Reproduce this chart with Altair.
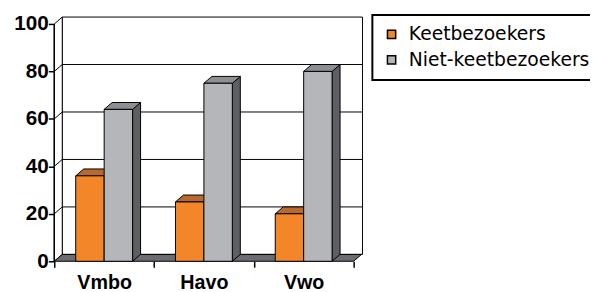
import altair as alt
import pandas as pd

# ---- data ----
categories = ["Vmbo", "Havo", "Vwo"]
series = ["Keetbezoekers", "Niet-keetbezoekers"]
keet = [36, 25, 20]
niet = [64, 75, 80]
y_ticks = [0, 20, 40, 60, 80, 100]

# ---- styling ----
front_colors = ["#F4862A", "#B5B6B9"]
top_colors = ["#B8692D", "#8E8F93"]
side_colors = ["#9A5420", "#5E5F63"]
floor_color = "#6B6C70"

DX = 0.08      # depth offset (x units)
DY = 2.9       # depth offset (y units)
XMAX = 3.09
YMAX = 102.9
BAR_W = 0.285
PLOT_W = 313
PLOT_H = 248

values = {series[0]: keet, series[1]: niet}

fronts, tops, sides = [], [], []
for i, cat in enumerate(categories):
    c = i + 0.5
    for j, s in enumerate(series):
        v = values[s][i]
        x0 = c - BAR_W if j == 0 else c
        x1 = x0 + BAR_W
        fid = f"{cat}-{s}"
        fronts.append(dict(series=s, x=x0, x2=x1, y=0, y2=v))
        tops.append(dict(id=fid, y=v, x=x0, x2=x1, fill=top_colors[j]))
        tops.append(dict(id=fid, y=v + DY, x=x0 + DX, x2=x1 + DX, fill=top_colors[j]))
        sides.append(dict(id=fid, x=x1, y=0, y2=v, fill=side_colors[j]))
        sides.append(dict(id=fid, x=x1 + DX, y=DY, y2=v + DY, fill=side_colors[j]))

xs = alt.Scale(domain=[0, XMAX], nice=False, zero=False)
ys = alt.Scale(domain=[0, YMAX], nice=False, zero=False)

tick_vals = [0, 0.5, 1, 1.5, 2, 2.5, 3]
cat_js = "[" + ",".join(f"'{c}'" for c in categories) + "]"
x_axis = alt.Axis(
    values=tick_vals,
    labelExpr=f"datum.value % 1 === 0 ? '' : {cat_js}[floor(datum.value)]",
    tickOpacity={"condition": {"test": "datum.value % 1 === 0", "value": 1}, "value": 0},
    domain=False, grid=False, title=None, tickSize=6, tickColor="black", tickWidth=1.5,
    labelFont="Liberation Sans", labelFontWeight="bold", labelFontSize=20,
    labelColor="black", labelPadding=6, labelOverlap=False, labelFlush=False,
)
y_axis = alt.Axis(
    values=y_ticks, domain=False, grid=False, title=None, tickSize=6,
    tickColor="black", tickWidth=1.5,
    labelFont="Liberation Sans", labelFontWeight="bold", labelFontSize=21,
    labelColor="black", labelPadding=0, labelOverlap=False,
)


def X(field):
    return alt.X(field, scale=xs, axis=x_axis, title=None)


def Y(field):
    return alt.Y(field, scale=ys, axis=y_axis, title=None)


# back wall
back_df = pd.DataFrame([dict(x=DX, x2=XMAX, y=DY, y2=YMAX)])
back = alt.Chart(back_df).mark_rect(fill="white", stroke="black", strokeWidth=1).encode(
    x=X("x:Q"), x2="x2", y=Y("y:Q"), y2="y2",
)

# left side wall
left_df = pd.DataFrame([
    dict(id="w", x=0, y=0, y2=y_ticks[-1]),
    dict(id="w", x=DX, y=DY, y2=y_ticks[-1] + DY),
])
left = alt.Chart(left_df).mark_area(orient="vertical", fill="white", stroke="black", strokeWidth=1).encode(
    x=X("x:Q"), y=Y("y:Q"), y2="y2", detail="id:N",
)

# gridlines on back wall and side wall
grid_df = pd.DataFrame([dict(v=v, vb=v + DY, x=DX, x2=XMAX, xf=0) for v in y_ticks[1:-1]])
grid_back = alt.Chart(grid_df).mark_rule(color="black", strokeWidth=1).encode(
    x=X("x:Q"), x2="x2", y=Y("vb:Q"),
)
grid_side = alt.Chart(grid_df).mark_rule(color="black", strokeWidth=1).encode(
    x=X("xf:Q"), x2="x", y=Y("v:Q"), y2="vb",
)

# floor
floor_df = pd.DataFrame([
    dict(id="f", y=0, x=0, x2=len(categories)),
    dict(id="f", y=DY, x=DX, x2=len(categories) + DX),
])
floor = alt.Chart(floor_df).mark_area(orient="horizontal", fill=floor_color, stroke="black", strokeWidth=1).encode(
    y=Y("y:Q"), x=X("x:Q"), x2="x2", detail="id:N",
)

# bars
side_layer = alt.Chart(pd.DataFrame(sides)).mark_area(orient="vertical", stroke="black", strokeWidth=1).encode(
    x=X("x:Q"), y=Y("y:Q"), y2="y2",
    detail="id:N", fill=alt.Fill("fill:N", scale=None),
)
top_layer = alt.Chart(pd.DataFrame(tops)).mark_area(orient="horizontal", stroke="black", strokeWidth=1).encode(
    y=Y("y:Q"), x=X("x:Q"), x2="x2",
    detail="id:N", fill=alt.Fill("fill:N", scale=None),
)
front_layer = alt.Chart(pd.DataFrame(fronts)).mark_rect(stroke="black", strokeWidth=1).encode(
    x=X("x:Q"), x2="x2", y=Y("y:Q"), y2="y2",
    color=alt.Color(
        "series:N",
        scale=alt.Scale(domain=series, range=front_colors),
        legend=alt.Legend(
            title=None, orient="none", legendX=323, legendY=-2,
            strokeColor="black", fillColor="white", padding=10,
            symbolType="square", symbolSize=70, symbolStrokeColor="black",
            symbolStrokeWidth=1.5, labelFont="DejaVu Sans", labelFontSize=19,
            labelColor="black", labelOffset=8, rowPadding=6, labelLimit=400,
        ),
    ),
)

# front vertical axis edge
axis_df = pd.DataFrame([dict(x=0, y=0, y2=y_ticks[-1])])
front_axis = alt.Chart(axis_df).mark_rule(color="black", strokeWidth=1.5).encode(
    x=X("x:Q"), y=Y("y:Q"), y2="y2",
)

chart = alt.layer(
    back, left, grid_back, grid_side, floor, side_layer, top_layer, front_layer, front_axis
).properties(
    width=PLOT_W, height=PLOT_H,
    autosize=alt.AutoSizeParams(type="none"),
    padding={"left": 47, "top": 7, "right": 231, "bottom": 29},
).configure_view(stroke=None).configure_legend(strokeWidth=2)

chart.save("out.html", embed_options={"renderer": "svg", "actions": False})
